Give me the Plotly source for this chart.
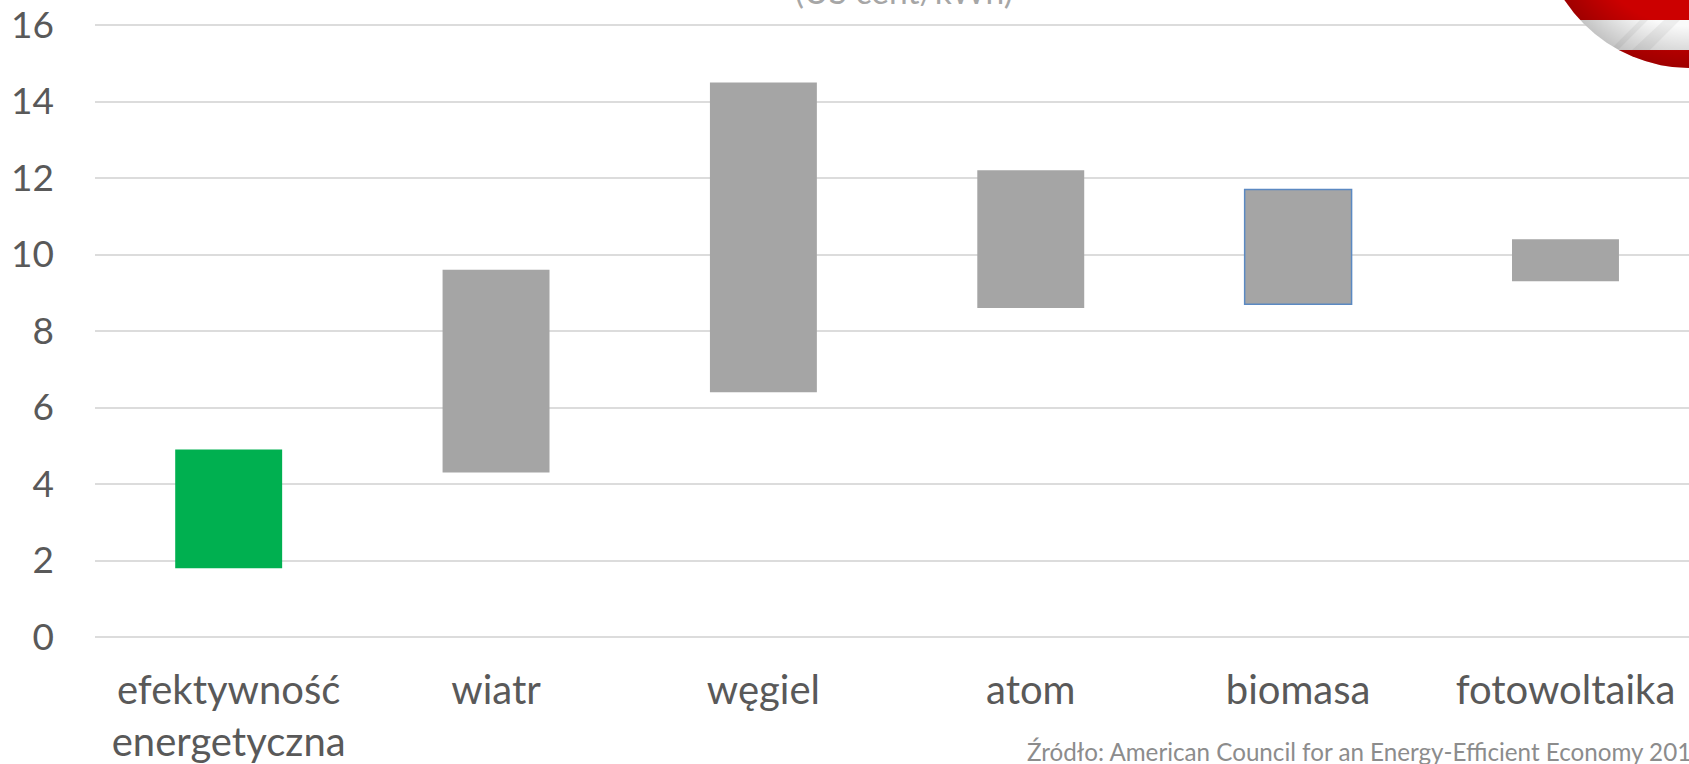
import base64
import plotly.graph_objects as go

categories = ["efektywność<br>energetyczna", "wiatr", "węgiel", "atom", "biomasa", "fotowoltaika"]
low_values = [1.8, 4.3, 6.4, 8.6, 8.7, 9.3]
high_values = [4.9, 9.6, 14.5, 12.2, 11.7, 10.4]
bar_colors = ["#00B050", "#A5A5A5", "#A5A5A5", "#A5A5A5", "#A5A5A5", "#A5A5A5"]
line_colors = ["#00B050", "#A5A5A5", "#A5A5A5", "#A5A5A5", "#5B89C2", "#A5A5A5"]
line_widths = [0, 0, 0, 0, 1.5, 0]
y_ticks = [0, 2, 4, 6, 8, 10, 12, 14, 16]
unit_label = "(US cent/kWh)"
source_label = "Źródło: American Council for an Energy-Efficient Economy 2014"

W, H = 1689, 764
FONT = "Lato, Carlito, Calibri, sans-serif"

flag_svg = """<svg xmlns="http://www.w3.org/2000/svg" width="130" height="70" viewBox="1560 0 130 70">
<defs>
<clipPath id="c"><circle cx="1690" cy="-82" r="150"/></clipPath>
<radialGradient id="g" gradientUnits="userSpaceOnUse" cx="1690" cy="-82" r="150">
<stop offset="0.72" stop-color="#000" stop-opacity="0"/>
<stop offset="1" stop-color="#000" stop-opacity="0.22"/>
</radialGradient>
</defs>
<g clip-path="url(#c)">
<rect x="1560" y="0" width="130" height="20" fill="#CC0000"/>
<rect x="1560" y="20" width="130" height="30" fill="#FAFAFA"/>
<rect x="1560" y="50" width="130" height="20" fill="#CC0000"/>
<path d="M1610 50 L1640 20 L1648 20 L1618 50 Z M1650 50 L1680 20 L1664 20 L1632 50 Z" fill="#000" opacity="0.05"/>
<rect x="1560" y="0" width="130" height="70" fill="url(#g)"/>
</g></svg>"""
flag_src = "data:image/svg+xml;base64," + base64.b64encode(flag_svg.encode()).decode()

fig = go.Figure(
    go.Bar(
        x=list(range(len(categories))),
        y=[h - l for h, l in zip(high_values, low_values)],
        base=low_values,
        width=0.4,
        marker=dict(color=bar_colors, line=dict(color=line_colors, width=line_widths)),
        hoverinfo="skip",
    )
)

left, right, top, bottom = 94.7, 0, 21, 127.4
fig.update_layout(
    width=W,
    height=H,
    autosize=False,
    showlegend=False,
    paper_bgcolor="white",
    plot_bgcolor="white",
    margin=dict(l=left, r=right, t=top, b=bottom, pad=0, autoexpand=False),
    font=dict(family=FONT, color="#595959"),
    xaxis=dict(
        range=[-0.5, 5.462],
        tickmode="array",
        tickvals=list(range(len(categories))),
        ticktext=categories,
        showgrid=False,
        zeroline=False,
        showline=False,
        ticks="",
        tickangle=0,
        tickfont=dict(size=40, family=FONT, color="#595959"),
        ticklabelstandoff=26,
    ),
    yaxis=dict(
        range=[0, 16.105],
        tickmode="array",
        tickvals=y_ticks,
        showgrid=True,
        gridcolor="#DCDCDC",
        gridwidth=1.5,
        zeroline=True,
        zerolinecolor="#DCDCDC",
        zerolinewidth=1.5,
        ticks="",
        tickfont=dict(size=37, family=FONT, color="#595959"),
        ticklabelstandoff=40,
    ),
    images=[
        dict(
            source=flag_src,
            xref="paper",
            yref="paper",
            x=(1560 - left) / (W - left),
            y=(H - bottom) / (H - top - bottom),
            sizex=130 / (W - left),
            sizey=70 / (H - top - bottom),
            xanchor="left",
            yanchor="top",
            sizing="stretch",
            layer="above",
        )
    ],
    annotations=[
        dict(
            text=unit_label,
            xref="paper",
            yref="paper",
            x=(904 - left) / (W - left),
            y=1,
            yanchor="bottom",
            xanchor="center",
            yshift=8,
            showarrow=False,
            font=dict(size=33.6, family=FONT, color="#A6A6A6"),
        ),
        dict(
            text=source_label,
            xref="paper",
            yref="paper",
            x=(1025 - left) / (W - left),
            y=0,
            xanchor="left",
            yanchor="top",
            yshift=-98,
            showarrow=False,
            font=dict(size=24.2, family=FONT, color="#8C8C8C"),
        ),
    ],
)

fig.write_html(
    "out.html",
    config={"displayModeBar": False},
    post_script="document.body.style.margin='0';document.body.style.overflow='hidden';",
)
